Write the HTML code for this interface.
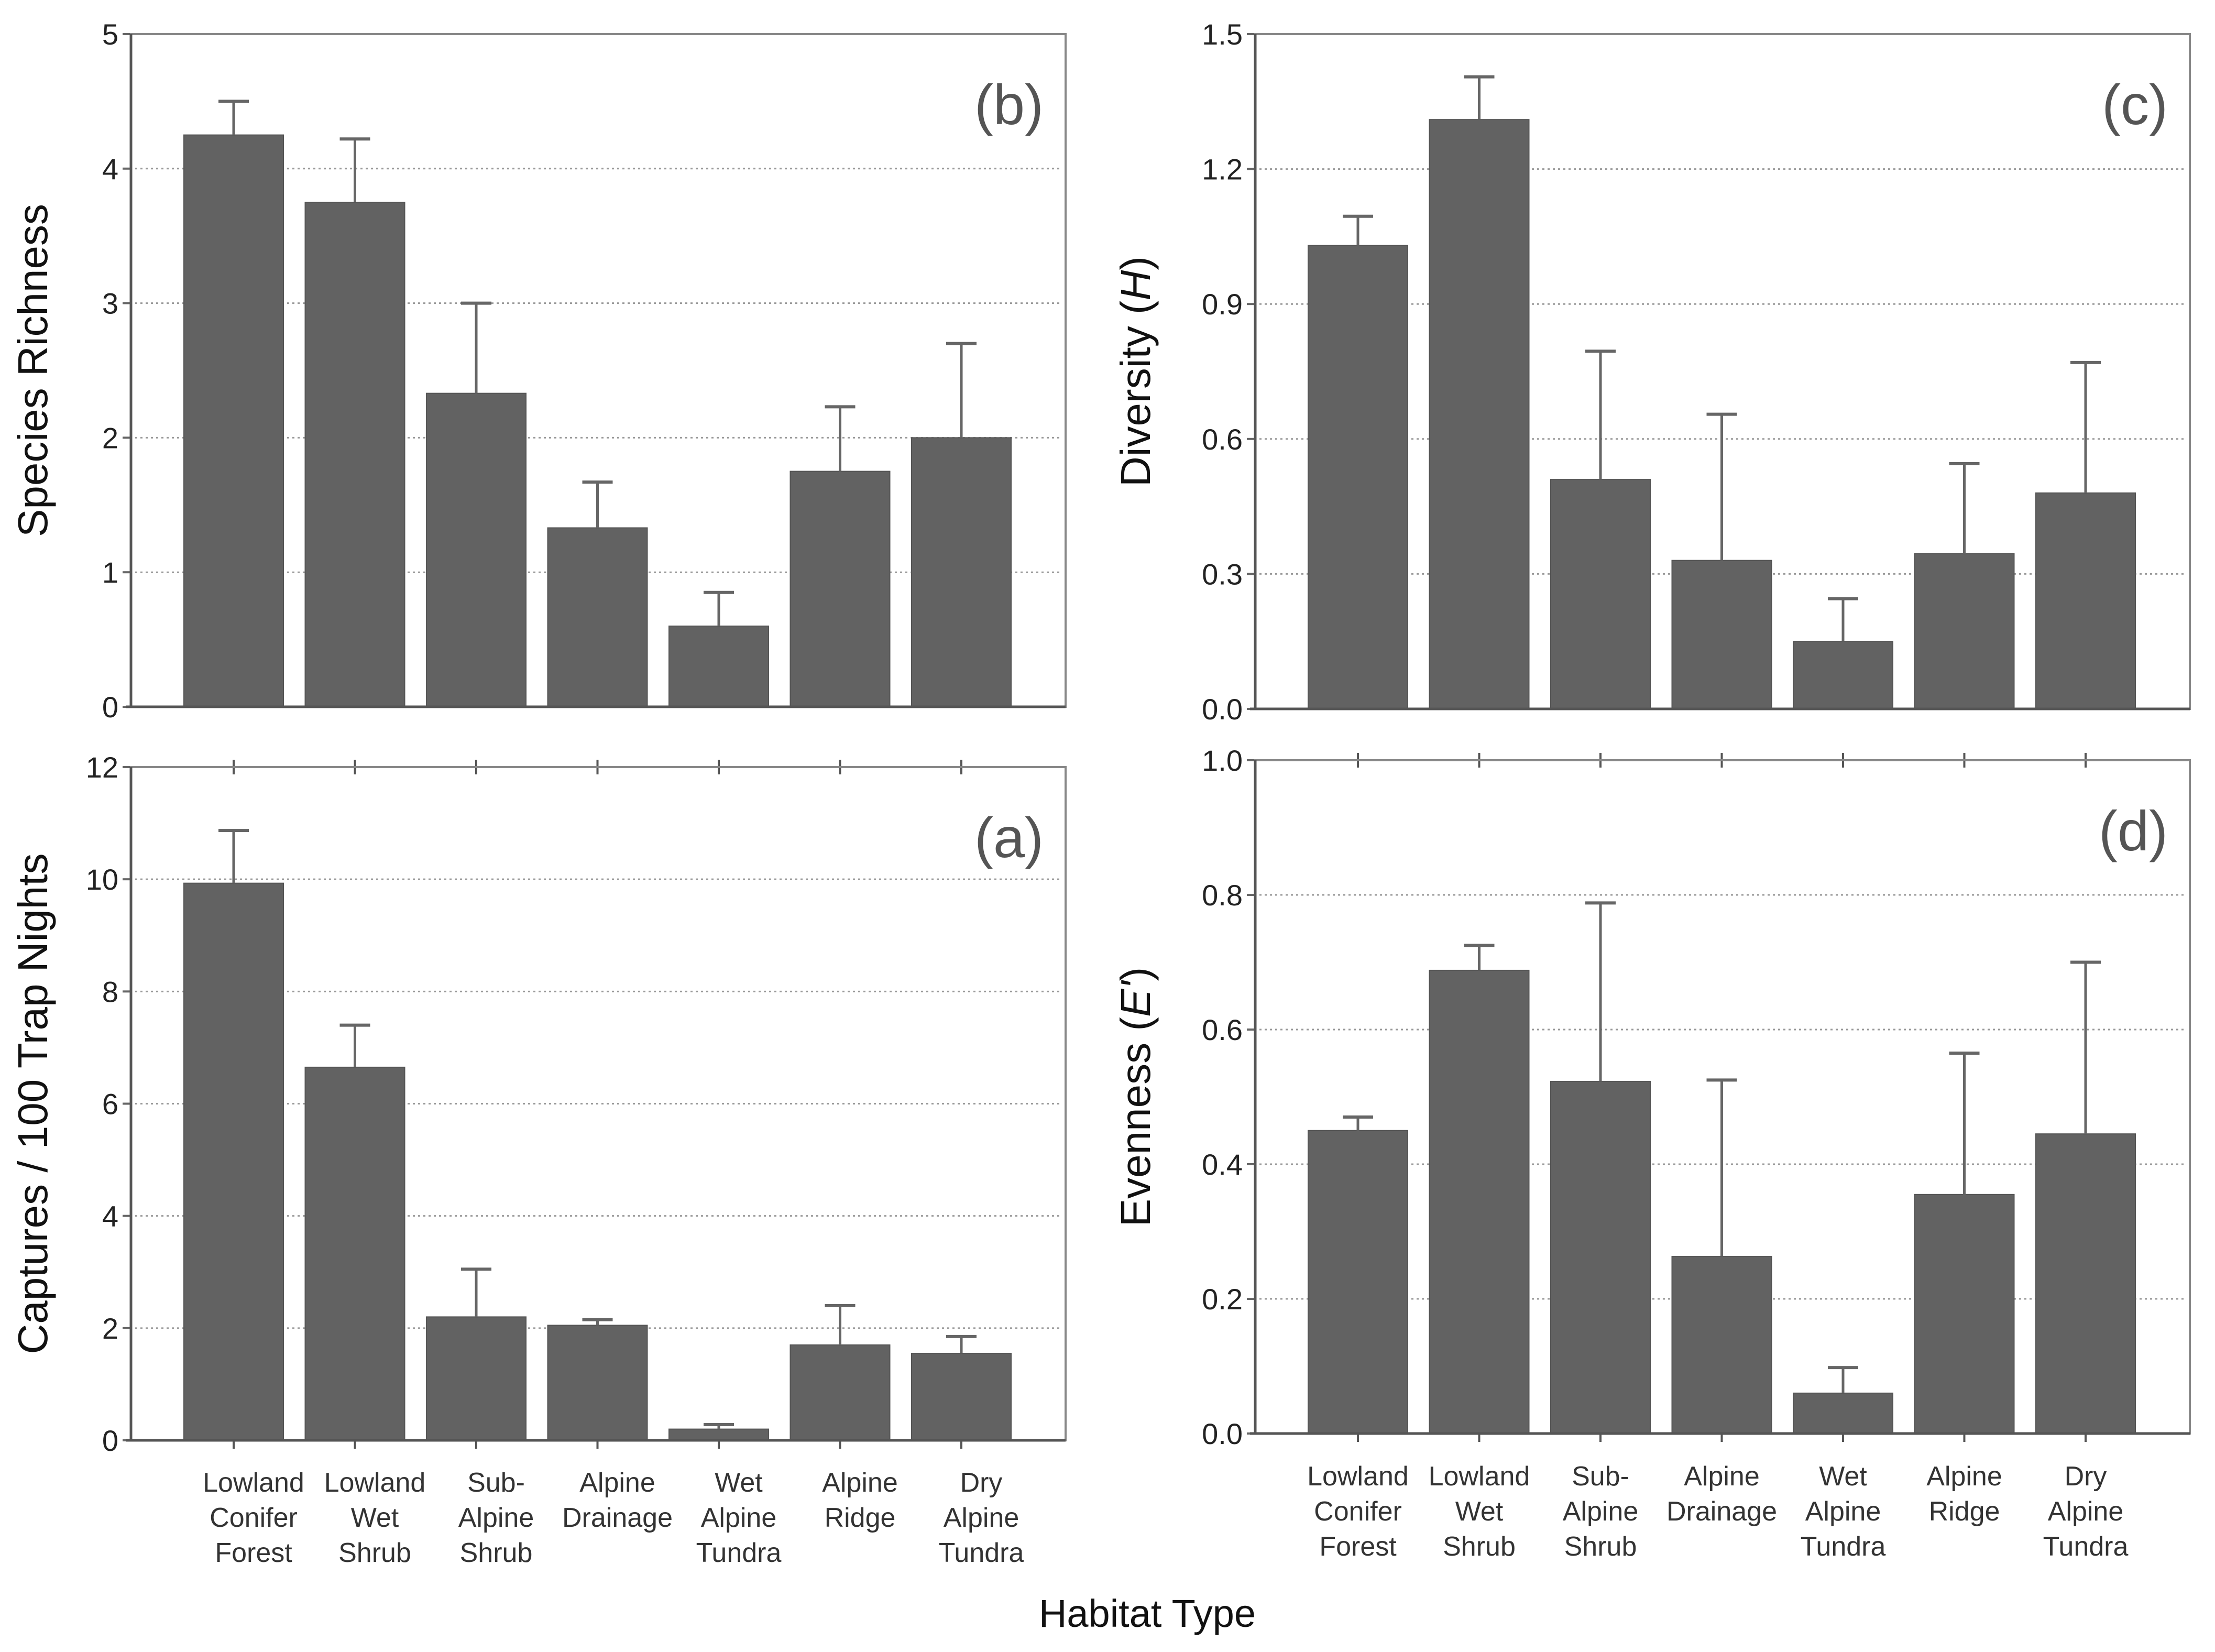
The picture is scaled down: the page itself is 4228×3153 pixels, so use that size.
<!DOCTYPE html>
<html><head><meta charset="utf-8"><style>
html,body{margin:0;padding:0;background:#fff;}
svg{display:block;}
text{font-family:"Liberation Sans",sans-serif;}
.cat{font-family:"Liberation Sans Narrow","Liberation Sans",sans-serif;font-size:52px;fill:#333;}
</style></head><body>
<svg id="chart" width="4228" height="3153" viewBox="0 0 4228 3153" xmlns="http://www.w3.org/2000/svg"></svg>
<script>
const categories = [["Lowland","Conifer","Forest"],["Lowland","Wet","Shrub"],["Sub-","Alpine","Shrub"],["Alpine","Drainage"],["Wet","Alpine","Tundra"],["Alpine","Ridge"],["Dry","Alpine","Tundra"]];
const richnessMean = [4.25,3.75,2.33,1.33,0.6,1.75,2.0];
const richnessUpper = [4.5,4.22,3.0,1.67,0.85,2.23,2.7];
const richnessTicks = ["0","1","2","3","4","5"];
const diversityMean = [1.03,1.31,0.51,0.33,0.15,0.345,0.48];
const diversityUpper = [1.095,1.405,0.795,0.655,0.245,0.545,0.77];
const diversityTicks = ["0.0","0.3","0.6","0.9","1.2","1.5"];
const capturesMean = [9.93,6.65,2.2,2.05,0.2,1.7,1.55];
const capturesUpper = [10.87,7.4,3.05,2.15,0.28,2.4,1.85];
const capturesTicks = ["0","2","4","6","8","10","12"];
const evennessMean = [0.45,0.688,0.523,0.263,0.06,0.355,0.445];
const evennessUpper = [0.47,0.725,0.788,0.525,0.098,0.565,0.70];
const evennessTicks = ["0.0","0.2","0.4","0.6","0.8","1.0"];

const NS="http://www.w3.org/2000/svg";
const svg=document.getElementById('chart');
function mk(tag,attrs,parent){const e=document.createElementNS(NS,tag);for(const k in attrs)e.setAttribute(k,attrs[k]);(parent||svg).appendChild(e);return e;}

function panel(o){
  const g=mk('g',{});
  
  
  const L=o.x0,R=o.x1,T=o.y0,B=o.y1;
  const max=parseFloat(o.ticks[o.ticks.length-1]);
  const y=v=>B-(v/max)*(B-T);
  const xc=i=>L+196+231.5*i;
  o.ticks.forEach((t,i)=>{
    const v=parseFloat(t);
    if(i>0&&i<o.ticks.length-1){
      const gl=mk('line',{x1:L+8,x2:R-8,y1:y(v),y2:y(v),stroke:'#999','stroke-width':3,'stroke-dasharray':'4 6'},g);
      
      
    }
    const tk=mk('line',{x1:L-16,x2:L,y1:y(v),y2:y(v),stroke:'#666','stroke-width':4},g);
    
    
    const tl=mk('text',{x:L-24,y:y(v)+20,'text-anchor':'end','font-size':56,fill:'#222'},g);
    tl.textContent=t;
    
    
  });
  o.mean.forEach((m,i)=>{
    const cx=xc(i);
    const b=mk('rect',{x:cx-95,y:y(m),width:190,height:B-y(m),fill:'#626262',stroke:'#555','stroke-width':2},g);
    
    
    const e=mk('line',{x1:cx,x2:cx,y1:y(m),y2:y(o.upper[i]),stroke:'#666','stroke-width':5},g);
    
    
    const c=mk('line',{x1:cx-29,x2:cx+29,y1:y(o.upper[i]),y2:y(o.upper[i]),stroke:'#666','stroke-width':6},g);
    
    
    if(o.topTicks){
      const t=mk('line',{x1:cx,x2:cx,y1:T-14,y2:T+14,stroke:'#555','stroke-width':4},g);
      
      
      const t2=mk('line',{x1:cx,x2:cx,y1:B,y2:B+16,stroke:'#555','stroke-width':4},g);
      
      
      categories[i].forEach((w,k)=>{
        const tx=mk('text',{x:cx+o.labOff,y:o.labY+k*67,'text-anchor':'middle',class:'cat'},g);
        tx.textContent=w;
        
        
      });
    }
  });
  const fr=mk('rect',{x:L,y:T,width:R-L,height:B-T,fill:'none',stroke:'#888','stroke-width':4},g);
  
  
  const bl=mk('line',{x1:L-10,x2:R,y1:B,y2:B,stroke:'#555','stroke-width':5},g);
  
  
  const ll=mk('line',{x1:L,x2:L,y1:T,y2:B,stroke:'#555','stroke-width':5},g);
  
  
  const pl=mk('text',{x:R-42,y:T+172,'text-anchor':'end','font-size':108,fill:'#555'},g);
  pl.textContent=o.letter;
  
  
  const yt=mk('text',{x:0,y:0,'text-anchor':'middle','font-size':80,fill:'#111',transform:`translate(${o.titleX},${(T+B)/2}) rotate(-90)`},g);
  yt.innerHTML=o.title;
  
  
}
panel({name:'panel-b-richness',x0:250,x1:2034,y0:65,y1:1349,mean:richnessMean,upper:richnessUpper,ticks:richnessTicks,letter:'(b)',title:'Species Richness',titleX:90,topTicks:false});
panel({name:'panel-c-diversity',x0:2396,x1:4180,y0:65,y1:1353,mean:diversityMean,upper:diversityUpper,ticks:diversityTicks,letter:'(c)',title:'Diversity (<tspan font-style="italic">H</tspan>)',titleX:2195,topTicks:false});
panel({name:'panel-a-captures',x0:250,x1:2034,y0:1464,y1:2749,mean:capturesMean,upper:capturesUpper,ticks:capturesTicks,letter:'(a)',title:'Captures / 100 Trap Nights',titleX:90,topTicks:true,labOff:38,labY:2847});
panel({name:'panel-d-evenness',x0:2396,x1:4180,y0:1451,y1:2736,mean:evennessMean,upper:evennessUpper,ticks:evennessTicks,letter:'(d)',title:'Evenness (<tspan font-style="italic">E\'</tspan>)',titleX:2195,topTicks:true,labOff:0,labY:2835});
const xt=mk('text',{x:2190,y:3105,'text-anchor':'middle','font-size':74,fill:'#111'});
xt.textContent='Habitat Type';


</script>
</body></html>
